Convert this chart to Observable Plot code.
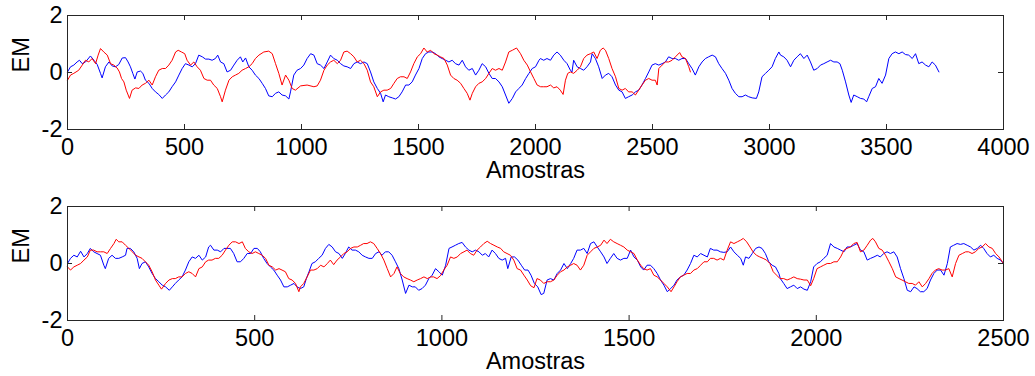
<!DOCTYPE html>
<html><head><meta charset="utf-8">
<script src="https://cdn.jsdelivr.net/npm/d3@7"></script>
<script src="https://cdn.jsdelivr.net/npm/@observablehq/plot@0.6"></script>
<style>html,body{margin:0;padding:0;background:#fff;} #chart svg{display:block;}</style>
</head><body><div id="chart"></div>
<script>
const yTicks = [-2, 0, 2];
const topXTicks = [0, 500, 1000, 1500, 2000, 2500, 3000, 3500, 4000];
const bottomXTicks = [0, 500, 1000, 1500, 2000, 2500];
const xLabel = "Amostras";
const yLabel = "EM";

// [amostra, EM]
const topBlue = [[0,0.02],[13,0.20],[27,0.26],[41,0.37],[51,0.43],[63,0.31],[77,0.37],[98,0.58],[113,0.43],[127,0.28],[141,-0.03],[148,-0.19],[162,0.20],[177,0.37],[191,0.23],[205,0.20],[219,0.28],[234,0.51],[248,0.52],[259,0.37],[269,0.20],[279,-0.03],[288,-0.23],[298,0.02],[312,0.05],[322,-0.03],[333,-0.27],[348,-0.38],[362,-0.56],[376,-0.68],[390,-0.77],[405,-0.91],[419,-0.79],[433,-0.68],[447,-0.50],[462,-0.33],[476,-0.09],[490,0.14],[504,0.31],[519,0.26],[533,0.20],[547,0.31],[561,0.61],[576,0.55],[590,0.47],[604,0.47],[618,0.43],[632,0.49],[642,0.61],[654,0.37],[668,0.31],[682,0.02],[697,0.08],[711,0.26],[725,0.43],[739,0.55],[749,0.37],[761,0.51],[775,0.20],[789,0.08],[803,-0.09],[818,-0.21],[832,-0.38],[846,-0.56],[860,-0.82],[875,-0.85],[889,-0.73],[903,-0.68],[917,-0.79],[932,-0.82],[946,-0.93],[953,-0.68],[967,-0.09],[981,0.08],
[996,0.14],[1010,0.26],[1024,0.49],[1039,0.66],[1053,0.61],[1067,0.31],[1081,0.26],[1096,0.14],[1110,0.37],[1124,0.61],[1138,0.49],[1153,0.43],[1167,0.31],[1181,0.23],[1195,0.20],[1210,0.14],[1224,0.31],[1238,0.37],[1252,0.31],[1267,0.37],[1281,0.31],[1295,0.02],[1309,-0.33],[1324,-0.56],[1338,-0.73],[1349,-1.03],[1359,-0.79],[1373,-0.85],[1388,-0.89],[1402,-0.93],[1416,-0.85],[1430,-0.68],[1445,-0.44],[1459,-0.44],[1473,-0.33],[1487,-0.09],[1502,0.14],[1516,0.49],[1530,0.66],[1544,0.72],[1559,0.72],[1573,0.66],[1587,0.55],[1601,0.49],[1616,0.43],[1630,0.37],[1644,0.43],[1658,0.31],[1673,0.26],[1687,0.43],[1701,0.20],[1715,0.08],[1730,0.14],[1744,-0.09],[1758,0.08],[1772,0.31],[1787,0.20],[1801,-0.03],[1815,-0.21],[1829,-0.21],[1844,-0.33],[1858,-0.50],[1872,-0.79],[1886,-1.08],[1901,-0.91],[1915,-0.68],[1929,-0.56],[1943,-0.44],[1958,-0.21],[1972,-0.03],[1986,0.14],[2000,0.20],[2015,0.43],
[2021,0.49],[2035,0.43],[2049,0.49],[2064,0.43],[2078,0.61],[2092,0.72],[2106,0.61],[2121,0.43],[2135,0.31],[2149,0.08],[2156,0.02],[2163,0.43],[2178,0.20],[2192,0.14],[2206,0.08],[2220,0.20],[2235,0.37],[2242,0.66],[2256,0.49],[2270,0.20],[2285,-0.21],[2299,-0.09],[2313,-0.03],[2327,-0.15],[2342,-0.44],[2356,-0.62],[2370,-0.68],[2384,-0.91],[2398,-0.85],[2413,-0.79],[2427,-0.68],[2441,-0.62],[2455,-0.44],[2470,-0.21],[2484,0.02],[2498,0.26],[2512,0.31],[2527,0.26],[2541,0.31],[2555,0.37],[2569,0.55],[2584,0.49],[2598,0.49],[2612,0.43],[2626,0.49],[2641,0.49],[2655,0.31],[2669,0.14],[2683,-0.09],[2698,0.20],[2712,0.37],[2726,0.49],[2740,0.55],[2755,0.61],[2769,0.55],[2783,0.31],[2797,0.14],[2812,-0.03],[2826,-0.27],[2840,-0.56],[2854,-0.73],[2869,-0.85],[2883,-0.85],[2897,-0.79],[2911,-0.85],[2926,-0.89],[2944,-0.91],[2954,-0.68],[2968,-0.15],[2983,-0.03],[2997,0.08],[3011,0.20],[3025,0.49],[3040,0.72],
[3047,0.61],[3061,0.55],[3075,0.43],[3090,0.20],[3104,0.43],[3118,0.55],[3132,0.66],[3147,0.49],[3161,0.61],[3175,0.37],[3189,0.08],[3204,0.14],[3218,0.26],[3232,0.31],[3246,0.37],[3261,0.43],[3275,0.37],[3289,0.37],[3301,0.31],[3311,0.08],[3325,-0.33],[3339,-0.79],[3349,-1.05],[3360,-0.79],[3375,-0.85],[3389,-0.91],[3403,-0.93],[3415,-1.03],[3424,-0.85],[3439,-0.56],[3453,-0.50],[3467,-0.21],[3481,-0.38],[3496,-0.09],[3510,0.49],[3524,0.66],[3538,0.72],[3553,0.66],[3567,0.72],[3581,0.63],[3595,0.61],[3610,0.49],[3624,0.66],[3638,0.31],[3652,0.37],[3667,0.26],[3681,0.20],[3695,0.37],[3709,0.26],[3724,0.02]];

const topRed = [[0,-0.27],[13,-0.09],[27,-0.03],[48,0.08],[63,0.26],[77,0.43],[91,0.37],[105,0.49],[120,0.31],[131,0.61],[141,0.84],[155,0.72],[170,0.61],[184,0.31],[198,0.26],[212,0.16],[222,0.02],[231,-0.21],[241,-0.33],[251,-0.62],[265,-0.91],[276,-0.62],[291,-0.54],[305,-0.56],[319,-0.44],[333,-0.38],[348,-0.27],[362,-0.44],[376,-0.15],[390,0.08],[405,0.14],[419,0.14],[433,0.26],[447,0.43],[462,0.72],[473,0.78],[487,0.72],[501,0.66],[511,0.43],[526,0.26],[540,0.37],[554,0.20],[568,0.08],[583,-0.21],[597,-0.27],[611,-0.27],[625,-0.44],[640,-0.56],[654,-0.85],[661,-1.03],[675,-0.62],[690,-0.27],[704,-0.15],[718,-0.09],[732,-0.03],[746,0.08],[761,0.14],[775,0.20],[789,0.31],[803,0.49],[818,0.61],[839,0.72],[860,0.75],[875,0.66],[889,0.31],[903,-0.03],[917,-0.44],[932,-0.09],[946,-0.27],[960,-0.56],[974,-0.62],
[996,-0.47],[1024,-0.44],[1053,-0.50],[1067,-0.47],[1081,-0.27],[1096,0.08],[1110,0.26],[1124,0.37],[1138,0.43],[1153,0.31],[1167,0.43],[1181,0.72],[1195,0.75],[1210,0.66],[1224,0.55],[1238,0.37],[1252,0.43],[1267,0.31],[1281,0.08],[1295,-0.33],[1309,-0.50],[1324,-0.85],[1338,-0.68],[1352,-0.62],[1366,-0.62],[1381,-0.56],[1395,-0.38],[1409,-0.21],[1423,-0.15],[1438,-0.15],[1452,-0.21],[1466,0.02],[1480,0.31],[1495,0.55],[1509,0.66],[1523,0.86],[1537,0.72],[1552,0.78],[1566,0.66],[1580,0.61],[1594,0.55],[1609,0.49],[1623,0.26],[1637,-0.09],[1651,-0.21],[1665,-0.27],[1680,-0.38],[1694,-0.56],[1708,-0.73],[1720,-0.97],[1730,-0.73],[1744,-0.50],[1758,-0.38],[1772,-0.33],[1787,-0.21],[1801,-0.03],[1815,0.14],[1829,0.08],[1844,0.14],[1858,0.08],[1872,0.37],[1886,0.72],[1901,0.78],[1919,0.86],[1936,0.66],[1950,0.43],[1965,0.26],[1979,0.02],[1993,-0.21],[2007,-0.44],[2022,-0.50],
[2035,-0.50],[2049,-0.50],[2064,-0.44],[2078,-0.54],[2092,-0.50],[2106,-0.62],[2118,-0.77],[2128,-0.27],[2138,-0.03],[2149,0.02],[2163,-0.03],[2178,0.08],[2192,0.20],[2206,0.49],[2220,0.61],[2235,0.66],[2249,0.72],[2263,0.49],[2277,0.78],[2289,0.86],[2299,0.78],[2313,0.49],[2327,0.14],[2342,-0.15],[2356,-0.56],[2370,-0.62],[2384,-0.56],[2398,-0.68],[2413,-0.68],[2427,-0.79],[2441,-0.62],[2455,-0.44],[2470,-0.27],[2484,-0.21],[2498,-0.27],[2512,-0.27],[2520,-0.44],[2527,0.14],[2541,0.26],[2555,0.37],[2569,0.37],[2584,0.43],[2598,0.55],[2616,0.70],[2626,0.55],[2641,0.49],[2655,0.20],[2662,0.02]];

const bottomBlue = [[0,0.00],[8,0.18],[17,0.29],[26,0.23],[35,0.43],[44,0.23],[53,0.35],[61,0.53],[70,0.41],[79,0.35],[88,0.29],[97,-0.06],[101,-0.18],[110,0.18],[119,0.29],[128,0.18],[137,0.18],[146,0.23],[155,0.29],[159,0.53],[168,0.53],[177,0.41],[186,0.18],[192,-0.18],[199,0.00],[208,0.06],[217,-0.12],[226,-0.35],[235,-0.53],[244,-0.64],[253,-0.76],[262,-0.82],[272,-0.94],[280,-0.82],[288,-0.70],[297,-0.58],[306,-0.47],[315,-0.23],[324,0.06],[333,0.23],[342,0.18],[351,0.29],[360,0.12],[369,0.23],[377,0.58],[382,0.64],[391,0.47],[400,0.47],[409,0.41],[418,0.53],[426,0.53],[435,0.53],[444,0.35],[453,0.06],[462,0.06],[471,0.18],[480,0.35],[489,0.35],[498,0.53],[507,0.53],[515,0.41],[524,0.18],[533,0.00],[542,-0.12],[551,-0.23],[560,-0.41],[569,-0.58],[578,-0.82],[587,-0.82],[596,-0.76],[605,-0.70],[613,-0.82],
[622,-0.88],[631,-0.82],[638,-0.53],[645,-0.29],[653,0.00],[662,0.06],[671,0.18],[680,0.29],[689,0.53],[698,0.67],[707,0.58],[716,0.41],[725,0.35],[734,0.18],[742,0.35],[751,0.58],[760,0.47],[769,0.47],[778,0.41],[787,0.29],[796,0.23],[805,0.18],[814,0.18],[823,0.35],[832,0.41],[840,0.29],[849,0.41],[858,0.41],[867,0.29],[876,0.06],[885,-0.18],[894,-0.58],[903,-1.05],[912,-0.76],[921,-0.82],[929,-0.82],[938,-0.94],[947,-0.88],[956,-0.76],[965,-0.53],[974,-0.41],[983,-0.18],[992,-0.29],[1001,-0.41],[1010,-0.06],[1019,0.53],[1027,0.58],[1036,0.64],[1045,0.70],[1054,0.74],[1063,0.58],[1072,0.47],[1081,0.41],[1090,0.47],[1099,0.41],[1108,0.29],[1116,0.35],[1125,0.23],[1134,0.47],[1143,0.35],[1152,0.18],[1161,0.12],[1170,0.18],[1176,-0.18],[1185,0.23],[1194,0.23],[1203,0.12],[1212,-0.06],[1221,-0.23],[1230,-0.23],[1238,-0.41],[1247,-0.70],[1256,-0.82],[1265,-1.09],
[1272,-1.05],[1281,-0.58],[1290,-0.53],[1299,-0.58],[1308,-0.35],[1317,-0.23],[1326,0.00],[1335,-0.18],[1344,0.00],[1352,0.18],[1361,0.47],[1370,0.47],[1379,0.53],[1388,0.35],[1397,0.70],[1406,0.76],[1415,0.58],[1424,0.41],[1433,0.23],[1441,0.00],[1450,0.18],[1459,0.35],[1468,0.18],[1477,0.12],[1486,0.18],[1495,0.18],[1504,0.47],[1513,0.23],[1522,0.12],[1531,-0.12],[1539,-0.23],[1548,-0.06],[1557,-0.06],[1566,-0.18],[1575,-0.35],[1584,-0.58],[1593,-0.76],[1602,-0.99],[1611,-0.88],[1620,-0.76],[1628,-0.58],[1637,-0.47],[1646,-0.41],[1655,-0.23],[1664,0.00],[1673,0.29],[1682,0.23],[1691,0.35],[1700,0.29],[1709,0.23],[1717,0.53],[1726,0.47],[1735,0.47],[1744,0.41],[1753,0.39],[1762,0.41],[1771,0.58],[1780,0.41],[1789,0.29],[1798,0.18],[1805,-0.06],[1811,0.23],[1820,0.18],[1829,0.35],[1838,0.53],[1847,0.58],[1855,0.53],[1864,0.35],[1873,0.06],[1882,-0.06],[1891,-0.12],[1900,-0.35],
[1904,-0.53],[1913,-0.70],[1922,-0.88],[1931,-0.82],[1940,-0.76],[1949,-0.88],[1958,-0.82],[1967,-0.90],[1976,-0.94],[1985,-0.64],[1993,-0.12],[2002,0.00],[2011,0.06],[2020,0.18],[2029,0.29],[2038,0.70],[2047,0.58],[2056,0.53],[2065,0.47],[2074,0.41],[2082,0.58],[2091,0.58],[2100,0.64],[2109,0.70],[2118,0.47],[2127,0.41],[2136,0.12],[2145,0.18],[2154,0.23],[2163,0.29],[2171,0.23],[2180,0.35],[2189,0.41],[2198,0.35],[2207,0.41],[2216,0.23],[2225,-0.18],[2234,-0.53],[2243,-0.94],[2252,-0.99],[2261,-0.82],[2269,-0.88],[2278,-0.99],[2287,-0.99],[2296,-0.88],[2305,-0.58],[2314,-0.35],[2323,-0.23],[2332,-0.23],[2341,-0.41],[2350,0.00],[2358,0.58],[2367,0.64],[2376,0.70],[2385,0.67],[2394,0.70],[2403,0.64],[2412,0.58],[2421,0.47],[2430,0.53],[2439,0.64],[2447,0.53],[2456,0.35],[2465,0.23],[2474,0.29],[2483,0.18],[2492,0.12],[2500,0.00]];

const bottomRed = [[0,-0.12],[8,-0.23],[17,-0.12],[26,-0.06],[35,0.00],[44,0.12],[53,0.23],[61,0.47],[70,0.47],[79,0.41],[88,0.41],[97,0.41],[106,0.35],[115,0.53],[124,0.70],[130,0.85],[137,0.76],[146,0.76],[155,0.64],[164,0.53],[173,0.41],[182,0.29],[191,0.23],[199,0.18],[208,0.06],[217,-0.06],[226,-0.29],[235,-0.58],[244,-0.76],[251,-0.90],[262,-0.70],[271,-0.58],[280,-0.53],[288,-0.53],[297,-0.47],[306,-0.47],[315,-0.35],[324,-0.29],[333,-0.35],[342,-0.47],[351,-0.18],[360,-0.12],[369,0.06],[377,0.12],[386,0.12],[395,0.18],[404,0.18],[413,0.29],[422,0.47],[431,0.64],[440,0.76],[449,0.76],[458,0.70],[467,0.76],[475,0.53],[484,0.41],[493,0.35],[502,0.41],[511,0.35],[520,0.29],[529,0.18],[538,-0.06],[547,-0.12],[556,-0.23],[565,-0.18],[573,-0.23],[582,-0.29],[591,-0.53],[600,-0.58],[609,-0.70],[618,-0.99],
[622,-0.82],[631,-0.70],[640,-0.47],[649,-0.23],[658,-0.23],[667,-0.18],[676,-0.06],[685,-0.12],[694,0.00],[702,0.12],[711,-0.04],[720,0.12],[729,0.23],[738,0.35],[747,0.41],[756,0.53],[765,0.58],[774,0.58],[783,0.64],[791,0.70],[800,0.70],[809,0.76],[818,0.70],[827,0.53],[836,0.35],[845,0.12],[854,-0.18],[863,-0.47],[872,-0.35],[880,-0.12],[889,-0.35],[898,-0.47],[907,-0.53],[916,-0.58],[925,-0.64],[934,-0.58],[943,-0.53],[952,-0.47],[961,-0.53],[970,-0.47],[978,-0.47],[987,-0.53],[996,-0.43],[1005,-0.23],[1014,-0.06],[1023,0.23],[1032,0.18],[1041,0.23],[1050,0.35],[1059,0.41],[1067,0.47],[1076,0.35],[1085,0.29],[1094,0.47],[1103,0.58],[1112,0.70],[1121,0.78],[1130,0.70],[1139,0.64],[1148,0.58],[1157,0.53],[1165,0.41],[1174,0.35],[1183,0.29],[1192,0.12],[1201,-0.18],[1210,-0.23],[1219,-0.41],[1228,-0.58],[1237,-0.78],[1246,-0.85],[1254,-0.53],[1263,-0.58],
[1272,-0.70],[1281,-0.64],[1290,-0.64],[1299,-0.58],[1308,-0.41],[1317,-0.29],[1326,-0.23],[1335,-0.12],[1344,-0.06],[1352,0.00],[1361,-0.06],[1370,-0.23],[1379,-0.06],[1388,0.29],[1397,0.41],[1406,0.53],[1415,0.58],[1424,0.64],[1433,0.82],[1441,0.70],[1450,0.85],[1459,0.76],[1468,0.70],[1477,0.64],[1486,0.58],[1495,0.47],[1504,0.41],[1513,0.35],[1522,0.12],[1531,-0.06],[1539,-0.18],[1548,-0.23],[1557,-0.18],[1566,-0.41],[1575,-0.47],[1584,-0.58],[1593,-0.70],[1602,-0.82],[1612,-0.99],[1620,-0.82],[1628,-0.64],[1637,-0.47],[1646,-0.41],[1655,-0.35],[1664,-0.35],[1673,-0.23],[1682,-0.18],[1691,-0.06],[1700,0.06],[1709,0.06],[1717,0.18],[1726,0.18],[1735,0.12],[1744,0.18],[1753,0.12],[1762,0.47],[1771,0.76],[1780,0.70],[1789,0.76],[1798,0.82],[1805,0.88],[1814,0.76],[1823,0.58],[1831,0.41],[1840,0.29],[1849,0.23],[1858,0.18],[1867,0.12],[1876,0.00],[1885,-0.29],[1894,-0.41],[1903,-0.53],
[1913,-0.53],[1922,-0.58],[1931,-0.53],[1940,-0.47],[1949,-0.53],[1958,-0.55],[1967,-0.58],[1976,-0.58],[1985,-0.78],[1993,-0.53],[2002,-0.18],[2011,-0.12],[2020,-0.06],[2029,0.00],[2038,0.00],[2047,0.06],[2056,0.06],[2065,0.23],[2074,0.47],[2082,0.53],[2091,0.58],[2100,0.70],[2109,0.74],[2118,0.41],[2127,0.47],[2136,0.64],[2145,0.82],[2151,0.88],[2158,0.76],[2167,0.53],[2176,0.47],[2185,0.29],[2194,0.06],[2203,-0.18],[2212,-0.47],[2221,-0.53],[2229,-0.58],[2238,-0.64],[2247,-0.70],[2256,-0.70],[2265,-0.76],[2274,-0.64],[2283,-0.82],[2292,-0.70],[2301,-0.53],[2309,-0.35],[2318,-0.23],[2327,-0.18],[2336,-0.23],[2345,-0.23],[2354,-0.18],[2363,-0.47],[2372,0.00],[2381,0.29],[2390,0.35],[2399,0.41],[2407,0.41],[2416,0.35],[2425,0.41],[2434,0.53],[2443,0.58],[2452,0.70],[2461,0.58],[2470,0.53],[2479,0.35],[2488,0.23],[2500,0.00]];

const FONT = "'Liberation Sans', Arial, Helvetica, sans-serif";
const W = 1035, H = 188, ML = 67, MR = 32;

function panel(blue, red, xDomain, xTicks, mt, mb) {
  const frameH = H - mt - mb, frameW = W - ML - MR;
  const axisColor = "#262626";
  return Plot.plot({
    width: W, height: H,
    marginLeft: ML, marginRight: MR, marginTop: mt, marginBottom: mb,
    style: {fontSize: "23.5px", fontFamily: FONT, background: "white", color: "black", overflow: "visible"},
    x: {domain: xDomain},
    y: {domain: [-2, 2]},
    marks: [
      Plot.line(blue, {x: d => d[0], y: d => d[1], stroke: "#0000ff", strokeWidth: 1}),
      Plot.line(red, {x: d => d[0], y: d => d[1], stroke: "#ff0000", strokeWidth: 1}),
      Plot.tickX(xTicks, {x: d => d, insetTop: frameH - 5, stroke: axisColor}),
      Plot.tickX(xTicks, {x: d => d, insetBottom: frameH - 5, stroke: axisColor}),
      Plot.tickY(yTicks, {y: d => d, insetRight: frameW - 5, stroke: axisColor}),
      Plot.tickY(yTicks, {y: d => d, insetLeft: frameW - 5, stroke: axisColor}),
      Plot.frame({stroke: axisColor}),
      Plot.axisX(xTicks, {anchor: "bottom", tickSize: 0, tickPadding: 9, tickFormat: d => String(d), label: null}),
      Plot.axisY(yTicks, {anchor: "left", tickSize: 0, tickPadding: 5, tickFormat: d => String(d), label: null}),
      Plot.text([xLabel], {frameAnchor: "bottom", text: d => d, dy: 48}),
      Plot.text([yLabel], {frameAnchor: "left", text: d => d, rotate: -90, dx: -46})
    ]
  });
}

const chart = document.getElementById("chart");
chart.appendChild(panel(topBlue, topRed, [0, 4000], topXTicks, 15, 59));
chart.appendChild(panel(bottomBlue, bottomRed, [0, 2500], bottomXTicks, 18, 56));
</script>
</body></html>
